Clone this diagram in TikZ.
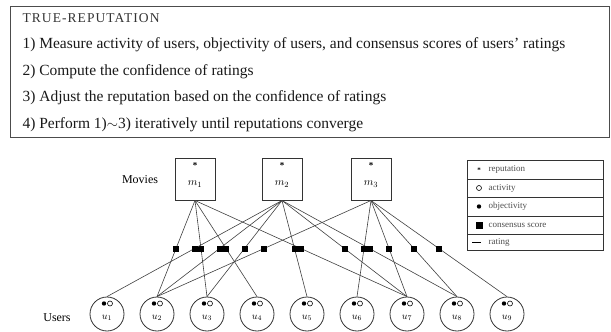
\documentclass[tikz,border=0pt]{standalone}
\usepackage{fontspec}
\setmainfont{Liberation Serif}
\tikzset{
    movie/.style={draw=black!80, line width=1pt, minimum width=40pt, minimum height=42pt},
    user/.style={draw=black!80, circle, line width=0.8pt, minimum size=34pt},
    rating/.style={draw=black!75, line width=0.6pt},
    score/.style={fill=black, inner sep=0pt, minimum size=6pt},
    objdot/.style={circle, fill=black, inner sep=0pt, minimum size=4.4pt},
    actdot/.style={circle, draw=black, line width=0.6pt, fill=white, inner sep=0pt, minimum size=5pt},
    steptext/.style={anchor=west, font=\fontsize{15.5}{17}\selectfont, text=black!90},
    legtext/.style={anchor=west, text=black!70, font=\fontsize{9}{10}\selectfont}
}
\begin{document}
\begin{tikzpicture}[x=1pt, y=-1pt]
        \useasboundingbox (0,0) rectangle (611,332);

        \node[draw=black!70, line width=1pt, anchor=north west,
            minimum width=599pt, minimum height=131pt, inner sep=0pt] (frame) at (10,6) {};
        \node[anchor=west, font=\fontsize{13.5}{15}\addfontfeatures{LetterSpace=8}, text=black!80] (title) at (19,18) {TRUE-REPUTATION};
        \foreach \n/\y/\t in {
            1/45/{1) Measure activity of users, objectivity of users, and consensus scores of users' ratings},
            2/71.5/{2) Compute the confidence of ratings},
            3/98/{3) Adjust the reputation based on the confidence of ratings},
            4/124.5/{4) Perform 1)$\sim$3) iteratively until reputations converge}%
        } {
            \node[steptext] (s\n) at (19,\y) {\t};
        }

        \node[font=\fontsize{12}{13}\selectfont] (movies) at (140,180) {Movies};
        \node[font=\fontsize{12}{13}\selectfont] (users) at (57,318) {Users};

        \foreach \i/\x in {1/195, 2/282, 3/371} {
            \node[movie] (m\i) at (\x,179) {};
            \node[font=\bfseries\small, inner sep=0pt] (mr\i) at (\x,166) {*};
            \node[font=\fontsize{11}{12}\selectfont] (ml\i) at (\x,184) {$m_{\i}$};
        }

        \foreach \i in {1,...,9} {
            \node[user] (u\i) at ({107+50*(\i-1)},314) {};
            \node[objdot] (uo\i) at ({104+50*(\i-1)},303.5) {};
            \node[actdot] (ua\i) at ({110+50*(\i-1)},303.5) {};
            \node[font=\fontsize{10}{11}\selectfont] (ul\i) at ({107+50*(\i-1)},318) {$u_{\i}$};
        }

        \foreach \a/\b in {
            m1/u2, m1/u3, m1/u4, m1/u7,
            m2/u1, m2/u2, m2/u3, m2/u5, m2/u7, m2/u8,
            m3/u2, m3/u6, m3/u7, m3/u8, m3/u9%
        } {
            \draw[rating] (\a.south) -- (\b.north)
                node[score, pos=0.5] (c\a\b) {};
        }

        \node[draw=black!80, line width=0.9pt, anchor=north west,
            minimum width=136pt, minimum height=90pt, inner sep=0pt] (legend) at (467,160) {};
        \foreach \y in {179,197,216,234} {
            \draw[black!80, line width=0.8pt] (legend.west |- 0,\y) -- (legend.east |- 0,\y);
        }
        \node[font=\bfseries\scriptsize, inner sep=0pt] (k1) at (479,170) {*};
        \node[actdot] (k2) at (479,188) {};
        \node[objdot] (k3) at (479,206.5) {};
        \node[score, minimum size=7pt] (k4) at (479,225) {};
        \coordinate (k5a) at (472,242);
        \coordinate (k5b) at (481,242);
        \draw[black, line width=1pt] (k5a) -- (k5b);
        \foreach \n/\y/\t in {1/169.5/reputation, 2/188/activity, 3/206.5/objectivity,
                              4/225/consensus score, 5/242/rating} {
            \node[legtext] (t\n) at (485,\y) {\t};
        }
\end{tikzpicture}
\end{document}
